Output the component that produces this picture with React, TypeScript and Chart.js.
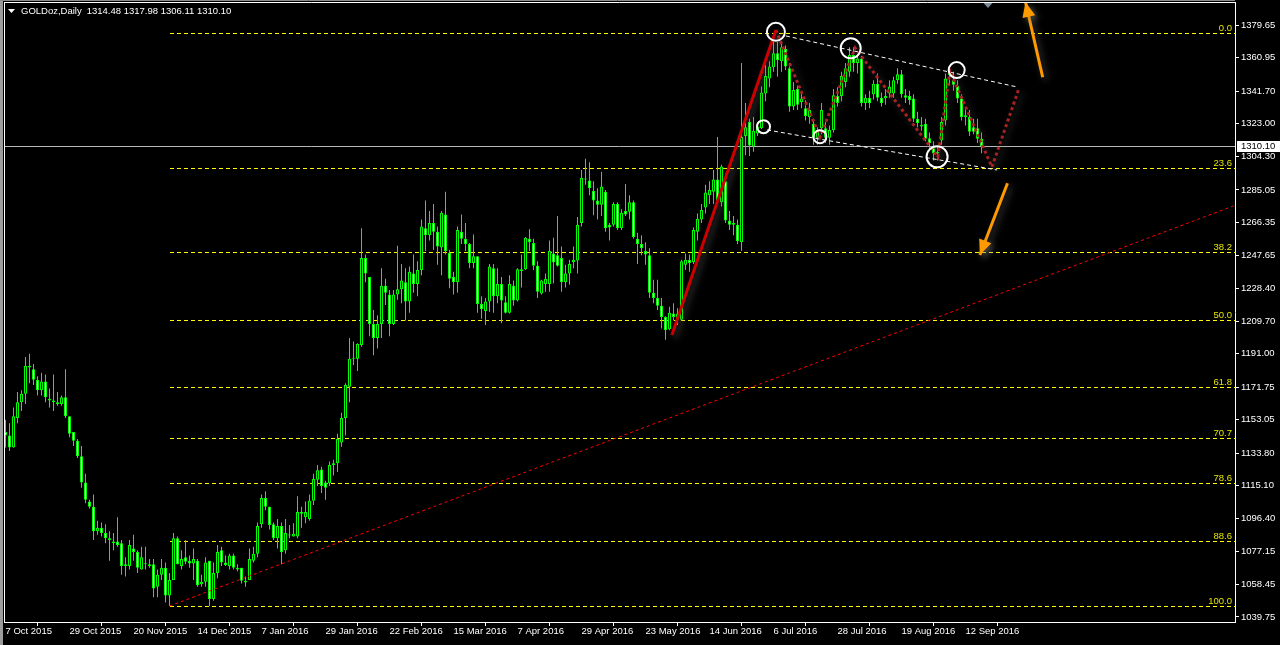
import React, { useEffect, useRef } from "react";
import { Chart, registerables } from "chart.js";

Chart.register(...registerables);

// ---------------- data ----------------
const SYMBOL = "GOLDoz,Daily";

const OPEN = [
  1146, 1144, 1137, 1154, 1163, 1168, 1184, 1182, 1176, 1170,
  1175, 1165, 1164, 1163, 1162, 1166, 1155, 1146, 1141, 1132,
  1117, 1106, 1103, 1089, 1091, 1088, 1085, 1083, 1083, 1082,
  1070, 1069, 1079, 1077, 1067, 1070, 1070, 1070, 1057, 1064,
  1068, 1052, 1061, 1085, 1069, 1074, 1072, 1070.5, 1072, 1058.5,
  1060, 1072, 1050, 1065, 1078, 1071, 1069, 1075, 1068, 1068,
  1060.5, 1061, 1072, 1076, 1093, 1108, 1103, 1093, 1085, 1092,
  1078, 1087, 1086, 1086, 1100, 1097, 1096, 1106.5, 1118.5, 1124.5,
  1117, 1116.5, 1127, 1128, 1140, 1154, 1172, 1188, 1188, 1196,
  1246, 1235, 1208, 1200, 1208, 1230, 1225, 1208, 1225, 1228,
  1232, 1221, 1237, 1231, 1239, 1263, 1259, 1266, 1261, 1252,
  1271, 1249, 1235, 1232, 1261, 1257, 1254, 1243, 1247, 1219.5,
  1215.5, 1221, 1240, 1224, 1231, 1220.5, 1214.5, 1230, 1221.5, 1239.5,
  1239.5, 1257, 1254.5, 1241.5, 1225.5, 1231, 1231, 1248.5, 1247.5, 1246,
  1232, 1237, 1243.5, 1244.5, 1266, 1291.5, 1290.5, 1284.5, 1279, 1276.5,
  1284, 1265, 1265, 1277, 1263, 1273, 1272.5, 1278, 1257, 1254,
  1250, 1247.5, 1226, 1223, 1218.5, 1212, 1205, 1214, 1214, 1210.5,
  1242, 1245, 1243.5, 1261, 1268, 1275, 1282, 1284, 1291, 1278,
  1290, 1267.5, 1265, 1265, 1255, 1316, 1324, 1310, 1317.5, 1320.5,
  1340.5, 1349, 1355.5, 1363.5, 1359, 1366, 1355, 1333, 1343, 1335.5,
  1332, 1327, 1323, 1315, 1320.5, 1320.5, 1315, 1319.5, 1339, 1339,
  1347, 1353, 1362.5, 1358, 1360.5, 1335, 1338, 1340, 1346, 1338,
  1337.7, 1340.5, 1340.5, 1348, 1351.5, 1339.5, 1339, 1337.5, 1326, 1322.5,
  1323, 1314.7, 1309, 1306, 1313.5, 1325, 1351, 1348, 1345, 1337.5,
  1328, 1327, 1321, 1320.5, 1314.48,
];

const HIGH = [
  1153, 1151, 1160, 1169, 1170, 1189, 1191, 1185, 1178, 1180,
  1179, 1171, 1179, 1169, 1167, 1182, 1155, 1146, 1142, 1138,
  1122, 1107, 1110, 1095, 1094, 1093, 1089, 1088, 1097, 1084,
  1074, 1084, 1087, 1078, 1080, 1080, 1073, 1073, 1067, 1073,
  1071, 1065, 1088, 1086, 1078, 1084, 1075, 1079, 1073, 1064,
  1074, 1072, 1071, 1081, 1080, 1075, 1076, 1076, 1070, 1068,
  1063, 1079, 1080, 1094, 1110, 1112, 1103, 1094, 1096, 1094,
  1096, 1092.5, 1093.5, 1109, 1103, 1106, 1110, 1122, 1127, 1126,
  1118, 1129, 1130, 1145, 1157, 1174, 1200, 1198, 1197, 1263,
  1248, 1235, 1216, 1213, 1240, 1234, 1227.5, 1227.5, 1253, 1242.5,
  1240, 1241, 1248, 1244, 1268, 1279, 1273, 1277, 1264, 1273,
  1284, 1250.5, 1238, 1264, 1271, 1266, 1254.5, 1259.5, 1247, 1224,
  1223, 1242.5, 1242.5, 1240, 1235, 1224, 1236, 1233, 1240, 1248,
  1258, 1262.5, 1257, 1244, 1233.5, 1237, 1256, 1257.5, 1270, 1252.5,
  1242, 1245, 1252.5, 1269.5, 1296.5, 1303, 1301, 1290, 1286, 1295.5,
  1285, 1266, 1278, 1278, 1274, 1288.5, 1282, 1279, 1260.5, 1259,
  1255, 1251.5, 1233.5, 1233.5, 1223, 1212.5, 1218, 1220, 1217, 1245,
  1248.5, 1248, 1263.5, 1271.5, 1277, 1288, 1290, 1296.5, 1315.5, 1299.5,
  1294.5, 1273, 1270, 1268, 1358, 1335, 1326, 1327, 1324, 1344.5,
  1357, 1359, 1375.2, 1370, 1370, 1368, 1358, 1347, 1345, 1341.5,
  1336.5, 1335, 1326, 1321, 1335, 1324, 1322, 1343, 1344, 1353,
  1358, 1367, 1367, 1363, 1362, 1340, 1342, 1348, 1352, 1341,
  1343, 1348, 1350, 1355, 1354, 1343, 1342, 1340, 1330, 1327,
  1326, 1318, 1313, 1310, 1327, 1352, 1355, 1353, 1348, 1340,
  1332, 1331, 1326, 1326, 1317.98,
];

const LOW = [
  1137, 1135, 1137, 1151, 1158, 1162, 1174, 1173, 1167, 1167,
  1163, 1160, 1158, 1161, 1161, 1154, 1143, 1138, 1131, 1114,
  1105, 1102, 1084, 1087, 1086, 1082, 1072, 1078, 1080, 1064,
  1063, 1067, 1072, 1065, 1067, 1067, 1068, 1051, 1051, 1061,
  1048, 1046, 1061, 1070, 1067, 1070, 1068, 1061, 1057, 1057,
  1057, 1046, 1049, 1062, 1069, 1069, 1067, 1067, 1066, 1059,
  1057, 1061, 1071, 1074, 1091, 1101, 1090, 1084, 1079, 1070,
  1076, 1085, 1086, 1085, 1091, 1093.5, 1095, 1104, 1115, 1111,
  1107, 1115, 1121, 1123, 1137.5, 1144, 1163, 1184.5, 1181, 1195,
  1232, 1201, 1190, 1194, 1200, 1219, 1201, 1207.5, 1222, 1220,
  1210, 1214.5, 1226, 1224, 1236, 1250, 1256, 1250.5, 1242, 1236,
  1248, 1228.5, 1225, 1226, 1254, 1250, 1240, 1240, 1214.5, 1211,
  1207.5, 1215, 1214.5, 1220, 1208.5, 1214, 1214, 1218.5, 1221, 1229,
  1239, 1250, 1239, 1223, 1225, 1226.5, 1226.5, 1231.5, 1241, 1226.5,
  1229, 1230.5, 1240, 1237, 1264, 1288, 1282, 1270.5, 1268, 1270,
  1261, 1256, 1264, 1262, 1262, 1270, 1268, 1257, 1242.5, 1247.5,
  1242, 1223, 1220, 1216, 1205.5, 1199, 1204.5, 1210, 1207.5, 1210,
  1239, 1238, 1242.5, 1256, 1266, 1271.5, 1277, 1277, 1279, 1275.5,
  1266, 1262, 1259, 1254, 1250, 1305, 1304.5, 1307, 1316, 1320,
  1336, 1344, 1353, 1350, 1353, 1354, 1330, 1331, 1331, 1332,
  1325, 1323, 1311, 1311, 1317, 1312, 1311, 1318, 1333, 1336,
  1344, 1350, 1353, 1352, 1333, 1331, 1332, 1337, 1336, 1333,
  1334, 1338, 1338, 1346, 1338, 1335, 1334, 1324, 1321, 1319,
  1313, 1308, 1302, 1302, 1311, 1322, 1345, 1342, 1335, 1325,
  1322, 1316, 1317, 1312, 1306.11,
];

const CLOSE = [
  1144, 1137, 1155, 1163, 1168, 1184, 1183, 1176, 1170, 1175,
  1166, 1164, 1163, 1162, 1166, 1155, 1145, 1141, 1132, 1117,
  1107, 1103, 1089, 1091, 1088, 1085, 1084, 1082, 1081, 1069,
  1069, 1081, 1077, 1068, 1074, 1070, 1069, 1056, 1064, 1068,
  1052, 1061, 1085, 1070, 1073, 1071.5, 1070.5, 1073, 1058, 1060,
  1071, 1050, 1065, 1077, 1071, 1069.5, 1075, 1068, 1067, 1060.5,
  1059.5, 1073, 1076, 1092, 1108, 1103, 1092.5, 1085, 1092, 1077,
  1088, 1086.5, 1087.5, 1100, 1099, 1100, 1106.5, 1119, 1124, 1115,
  1114, 1127, 1128, 1142, 1154, 1173, 1188, 1188.5, 1196.5, 1246,
  1237, 1208, 1200, 1208, 1230, 1226, 1208, 1225, 1228, 1233,
  1221, 1238, 1231, 1239, 1264, 1259, 1266, 1261, 1252.5, 1272,
  1250, 1234, 1232, 1262, 1257, 1254, 1243, 1247, 1219.5, 1216.5,
  1221, 1241, 1224, 1231, 1221.5, 1214.5, 1231, 1221.5, 1239.5, 1238.5,
  1257.5, 1255, 1241.5, 1226.5, 1233, 1234, 1250, 1243.5, 1241.5, 1232,
  1237, 1242.5, 1245, 1265, 1292, 1291, 1286, 1279, 1276.5, 1287,
  1263, 1263.5, 1277, 1263, 1272, 1271, 1278, 1258, 1254, 1251.5,
  1248, 1226, 1223, 1218.5, 1212, 1204.5, 1214.5, 1212, 1210.5, 1244,
  1245, 1243, 1262, 1268.5, 1273.5, 1283.5, 1285, 1291, 1279, 1298.5,
  1267.5, 1265, 1266, 1255.5, 1315.5, 1321, 1310.5, 1319, 1321.5, 1341,
  1350.5, 1356, 1363.5, 1359.5, 1367, 1356, 1333, 1342.5, 1334, 1337.5,
  1327.5, 1331, 1315, 1318.5, 1331, 1315, 1319.5, 1339.5, 1335, 1350.5,
  1355, 1362.5, 1358, 1360.5, 1335, 1338, 1335, 1346, 1338, 1335,
  1339, 1344.5, 1348, 1351.5, 1340, 1338, 1336.5, 1326, 1323.5, 1321.5,
  1314.5, 1312, 1306, 1307, 1324, 1349, 1353, 1345.5, 1337.5, 1327,
  1327, 1318.5, 1318.5, 1314.5, 1310.1,
];

// date labels, one every 16 bars starting at bar 0
const DATE_LABELS = [
  "7 Oct 2015", "29 Oct 2015", "20 Nov 2015", "14 Dec 2015", "7 Jan 2016",
  "29 Jan 2016", "22 Feb 2016", "15 Mar 2016", "7 Apr 2016", "29 Apr 2016",
  "23 May 2016", "14 Jun 2016", "6 Jul 2016", "28 Jul 2016", "19 Aug 2016",
  "12 Sep 2016",
];
const LABEL_EVERY = 16;

const PRICE_TICKS = [
  1379.65, 1360.95, 1341.7, 1323.0, 1304.3, 1285.05, 1266.35, 1247.65, 1228.4,
  1209.7, 1191.0, 1171.75, 1153.05, 1133.8, 1115.1, 1096.4, 1077.15, 1058.45, 1039.75,
];

// visible range of the chart window
const X_MIN = -0.375;
const X_MAX = 307.375;
const Y_MIN = 1036.82;
const Y_MAX = 1393.01;

// Fibonacci retracement
const FIB_HIGH = 1375.2;
const FIB_LOW = 1046.0;
const FIB_START_BAR = 41;
const FIB_LEVELS = [0, 23.6, 38.2, 50, 61.8, 70.7, 78.6, 88.6, 100];

// drawn objects (bar index, price)
const TREND_RAY = [ { x: 41, y: 1046 }, { x: 307.4, y: 1276.2 } ];
const IMPULSE = [ { x: 166.6, y: 1201.7 }, { x: 192.6, y: 1376.9 } ];
const ZIGZAG = [
  { x: 192.6, y: 1376.9 }, { x: 203.6, y: 1315.5 }, { x: 212.4, y: 1366.6 },
  { x: 233.1, y: 1304.0 }, { x: 236.1, y: 1353.4 }, { x: 246.6, y: 1298.2 },
  { x: 253.4, y: 1343.6 },
];
const CHANNEL_UP = [ { x: 195.1, y: 1373.5 }, { x: 252.9, y: 1344.2 } ];
const CHANNEL_DOWN = [ { x: 190.4, y: 1319.5 }, { x: 247.9, y: 1296.5 } ];
const PIVOTS = [
  { x: 192.6, y: 1375.9 }, { x: 189.5, y: 1321.4 }, { x: 203.6, y: 1315.6 },
  { x: 211.3, y: 1366.4 }, { x: 232.9, y: 1304.1 }, { x: 237.8, y: 1353.9 },
];
const PIVOT_RADII = [9, 6.5, 6.5, 10, 10.5, 8];
const ARROW_UP = [ { x: 259.3, y: 1349.8 }, { x: 255.0, y: 1393.0 } ];
const ARROW_DOWN = [ { x: 250.5, y: 1288.9 }, { x: 243.6, y: 1247.7 } ];

// ---------------- styles ----------------
const FONT = "'Liberation Sans', Arial, sans-serif";
const FONT_SIZE = 9.5;
const LIME = "#00ff00";
const FIB_COLOR = "#ffff00";
const FIB_TEXT = "#e2e600";
const ORANGE = "#ff9a00";
const SHADOWED = new Set(["impulse", "zigzag", "arrowUp", "arrowDown"]);

function setShadow(ctx: CanvasRenderingContext2D, on: boolean) {
  if (on) {
    ctx.shadowColor = "rgba(120,120,120,0.55)";
    ctx.shadowBlur = 7;
    ctx.shadowOffsetX = 3;
    ctx.shadowOffsetY = 3;
  } else {
    ctx.shadowColor = "rgba(0,0,0,0)";
    ctx.shadowBlur = 0;
    ctx.shadowOffsetX = 0;
    ctx.shadowOffsetY = 0;
  }
}

const mt4Plugin = {
  id: "mt4Decor",
  beforeDraw(chart: any) {
    const { ctx, width, height } = chart;
    ctx.save();
    ctx.fillStyle = "#000000";
    ctx.fillRect(0, 0, width, height);
    ctx.fillStyle = "#9c9c9c";
    ctx.fillRect(0, 0, 3, height);
    ctx.restore();
  },
  beforeDatasetsDraw(chart: any) {
    const { ctx, chartArea: a } = chart;
    const x = chart.scales.x;
    const y = chart.scales.y;
    ctx.save();
    // fibonacci levels
    const x0 = Math.round(x.getPixelForValue(FIB_START_BAR));
    ctx.strokeStyle = FIB_COLOR;
    ctx.lineWidth = 1;
    ctx.setLineDash([4, 3]);
    FIB_LEVELS.forEach((lvl) => {
      const v = FIB_HIGH - ((FIB_HIGH - FIB_LOW) * lvl) / 100;
      const py = Math.round(y.getPixelForValue(v)) + 0.5;
      ctx.beginPath();
      ctx.moveTo(x0, py);
      ctx.lineTo(a.right, py);
      ctx.stroke();
    });
    ctx.setLineDash([]);
    ctx.fillStyle = FIB_TEXT;
    ctx.font = `${FONT_SIZE}px ${FONT}`;
    ctx.textAlign = "right";
    ctx.textBaseline = "bottom";
    FIB_LEVELS.forEach((lvl) => {
      const v = FIB_HIGH - ((FIB_HIGH - FIB_LOW) * lvl) / 100;
      const py = Math.round(y.getPixelForValue(v));
      ctx.fillText(lvl.toFixed(1), a.right - 3, py);
    });
    // bid line
    const last = CLOSE[CLOSE.length - 1];
    const pl = Math.round(y.getPixelForValue(last)) + 0.5;
    ctx.strokeStyle = "#b8b8b8";
    ctx.beginPath();
    ctx.moveTo(a.left, pl);
    ctx.lineTo(a.right, pl);
    ctx.stroke();
    ctx.restore();
  },
  beforeDatasetDraw(chart: any, args: any) {
    const ds = chart.data.datasets[args.index];
    if (SHADOWED.has(ds.label)) setShadow(chart.ctx, true);
  },
  afterDatasetDraw(chart: any) {
    setShadow(chart.ctx, false);
  },
  afterDatasetsDraw(chart: any) {
    const { ctx } = chart;
    const x = chart.scales.x;
    const y = chart.scales.y;
    ctx.save();
    setShadow(ctx, true);
    [ARROW_UP, ARROW_DOWN].forEach((pts) => {
      const tx = x.getPixelForValue(pts[1].x);
      const ty = y.getPixelForValue(pts[1].y);
      const fx = x.getPixelForValue(pts[0].x);
      const fy = y.getPixelForValue(pts[0].y);
      const ang = Math.atan2(ty - fy, tx - fx);
      const len = 15;
      const half = 6.5;
      const bx = tx - Math.cos(ang) * len;
      const by = ty - Math.sin(ang) * len;
      ctx.beginPath();
      ctx.moveTo(tx, ty);
      ctx.lineTo(bx + Math.sin(ang) * half, by - Math.cos(ang) * half);
      ctx.lineTo(bx - Math.sin(ang) * half, by + Math.cos(ang) * half);
      ctx.closePath();
      ctx.fillStyle = ORANGE;
      ctx.fill();
    });
    setShadow(ctx, false);
    ctx.restore();
  },
  afterDraw(chart: any) {
    const { ctx, chartArea: a } = chart;
    const x = chart.scales.x;
    const y = chart.scales.y;
    ctx.save();
    // frame
    ctx.strokeStyle = "#ffffff";
    ctx.lineWidth = 1;
    ctx.beginPath();
    ctx.moveTo(a.left + 0.5, a.top);
    ctx.lineTo(a.left + 0.5, a.bottom);
    ctx.moveTo(a.left, a.top + 0.5);
    ctx.lineTo(a.right, a.top + 0.5);
    ctx.stroke();
    ctx.strokeStyle = "#8a8a8a";
    ctx.beginPath();
    ctx.moveTo(0, 0.5);
    ctx.lineTo(a.right, 0.5);
    ctx.stroke();
    // shift marker
    const sx = Math.round(x.getPixelForValue(CLOSE.length + 0.5));
    ctx.fillStyle = "#7d8a99";
    ctx.beginPath();
    ctx.moveTo(sx - 4.5, 3);
    ctx.lineTo(sx + 4.5, 3);
    ctx.lineTo(sx, 8);
    ctx.closePath();
    ctx.fill();
    // header
    ctx.fillStyle = "#ffffff";
    ctx.beginPath();
    ctx.moveTo(8, 9);
    ctx.lineTo(15, 9);
    ctx.lineTo(11.5, 13);
    ctx.closePath();
    ctx.fill();
    ctx.font = `${FONT_SIZE}px ${FONT}`;
    ctx.textAlign = "left";
    ctx.textBaseline = "middle";
    const n = CLOSE.length - 1;
    ctx.fillText(SYMBOL, 21, 11.5);
    const symW = ctx.measureText(SYMBOL).width;
    ctx.fillText(
      [OPEN[n], HIGH[n], LOW[n], CLOSE[n]].map((v) => v.toFixed(2)).join(" "),
      Math.max(86, 21 + symW + 5),
      11.5
    );
    // current price label
    const py = Math.round(y.getPixelForValue(CLOSE[n]));
    ctx.fillStyle = "#ffffff";
    ctx.fillRect(a.right + 2, py - 5, 44, 11);
    ctx.fillStyle = "#000000";
    ctx.fillText(CLOSE[n].toFixed(2), a.right + 6, py + 0.5);
    ctx.restore();
  },
};

export default function App() {
  const canvasRef = useRef<HTMLCanvasElement | null>(null);

  useEffect(() => {
    const canvas = canvasRef.current;
    if (!canvas) return;
    const idx = CLOSE.map((_, i) => i);
    const bodyData = idx.map((i) => ({ x: i, y: [OPEN[i], CLOSE[i]] }));
    const wickData = idx.map((i) => ({ x: i, y: [LOW[i], HIGH[i]] }));
    const bodyFill = idx.map((i) => (CLOSE[i] >= OPEN[i] ? "#000000" : "#ffffff"));

    const chart = new Chart(canvas, {
      type: "bar",
      data: {
        datasets: [
          {
            type: "scatter",
            label: "pivots",
            data: PIVOTS,
            pointRadius: PIVOT_RADII,
            pointBorderColor: "#ffffff",
            pointBorderWidth: 2,
            pointBackgroundColor: "rgba(0,0,0,0)",
            order: 0,
          } as any,
          {
            type: "line",
            label: "arrowUp",
            data: ARROW_UP,
            borderColor: ORANGE,
            borderWidth: 3,
            pointRadius: 0,
            order: 0,
          },
          {
            type: "line",
            label: "arrowDown",
            data: ARROW_DOWN,
            borderColor: ORANGE,
            borderWidth: 3,
            pointRadius: 0,
            order: 0,
          },
          {
            type: "line",
            label: "impulse",
            data: IMPULSE,
            borderColor: "#cc0000",
            borderWidth: 3,
            pointRadius: 0,
            order: 0,
          },
          {
            type: "line",
            label: "zigzag",
            data: ZIGZAG,
            borderColor: "#ab2222",
            borderWidth: 3,
            borderDash: [3, 3],
            pointRadius: 0,
            order: 0,
          },
          {
            type: "line",
            label: "channelUp",
            data: CHANNEL_UP,
            borderColor: "#ffffff",
            borderWidth: 1,
            borderDash: [4, 3],
            pointRadius: 0,
            order: 0,
          },
          {
            type: "line",
            label: "channelDown",
            data: CHANNEL_DOWN,
            borderColor: "#ffffff",
            borderWidth: 1,
            borderDash: [4, 3],
            pointRadius: 0,
            order: 0,
          },
          {
            type: "line",
            label: "trend",
            data: TREND_RAY,
            borderColor: "#ff0000",
            borderWidth: 1,
            borderDash: [3, 3],
            pointRadius: 0,
            order: 0,
          },
          {
            type: "bar",
            label: "body",
            data: bodyData as any,
            barThickness: 3,
            borderWidth: 1,
            borderColor: LIME,
            backgroundColor: bodyFill,
            borderSkipped: false,
            minBarLength: 1,
            inflateAmount: 0,
            grouped: false,
            order: 1,
          } as any,
          {
            type: "bar",
            label: "wick",
            data: wickData as any,
            barThickness: 1,
            borderWidth: 0,
            backgroundColor: LIME,
            inflateAmount: 0,
            grouped: false,
            order: 2,
          } as any,
        ],
      },
      options: {
        animation: false,
        responsive: false,
        events: [],
        layout: { padding: { left: 4, top: 2, right: 0, bottom: 0 }, autoPadding: false },
        plugins: { legend: { display: false }, tooltip: { enabled: false } },
        scales: {
          x: {
            type: "linear",
            min: X_MIN,
            max: X_MAX,
            offset: false,
            afterBuildTicks: (s: any) => {
              s.ticks = DATE_LABELS.map((_, k) => ({ value: k * LABEL_EVERY }));
            },
            afterFit: (s: any) => {
              s.height = 23;
              s.paddingLeft = 0;
              s.paddingRight = 0;
            },
            ticks: {
              autoSkip: false,
              maxRotation: 0,
              minRotation: 0,
              align: "start",
              padding: 0,
              color: "#ffffff",
              font: { family: FONT, size: FONT_SIZE },
              callback: (v: any) => DATE_LABELS[Math.round(Number(v) / LABEL_EVERY)] ?? "",
            },
            grid: {
              display: true,
              drawOnChartArea: false,
              drawTicks: true,
              tickLength: 4,
              color: "#ffffff",
            },
            border: { display: true, color: "#ffffff" },
          },
          y: {
            type: "linear",
            position: "right",
            min: Y_MIN,
            max: Y_MAX,
            afterBuildTicks: (s: any) => {
              s.ticks = PRICE_TICKS.map((v) => ({ value: v }));
            },
            afterFit: (s: any) => {
              s.width = 45;
              s.paddingTop = 0;
              s.paddingBottom = 0;
            },
            ticks: {
              autoSkip: false,
              padding: 2,
              color: "#ffffff",
              font: { family: FONT, size: FONT_SIZE },
              callback: (v: any) => Number(v).toFixed(2),
            },
            grid: {
              display: true,
              drawOnChartArea: false,
              drawTicks: true,
              tickLength: 4,
              color: "#ffffff",
            },
            border: { display: true, color: "#ffffff" },
          },
        },
      } as any,
      plugins: [mt4Plugin],
    });

    return () => chart.destroy();
  }, []);

  return (
    <div style={{ position: "absolute", left: 0, top: 0, width: 1280, height: 645, background: "#000" }}>
      <canvas ref={canvasRef} width={1280} height={645} style={{ width: 1280, height: 645, display: "block" }} />
    </div>
  );
}
